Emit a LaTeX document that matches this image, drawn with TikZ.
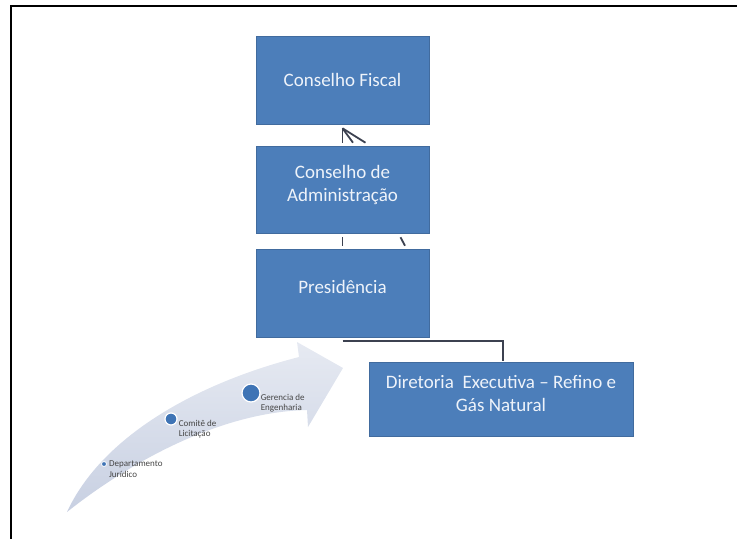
\documentclass[tikz,border=0pt]{standalone}
\usepackage{fontspec}
\setmainfont{Carlito}
\usetikzlibrary{positioning,calc}
\definecolor{boxblue}{HTML}{4C7EBA}
\definecolor{boxtext}{HTML}{EEF3FA}
\definecolor{linegray}{HTML}{3C4150}
\definecolor{arrowc}{HTML}{C8D0E2}
\definecolor{dotblue}{HTML}{3F74B5}
\definecolor{labgray}{HTML}{454545}
\tikzset{
  orgbox/.style={fill=boxblue, draw=boxblue!85!black, line width=0.6pt, text=boxtext,
    align=center, inner sep=0pt, font=\fontsize{19}{23}\selectfont},
  link/.style={draw=linegray, line width=1.8pt},
  dotnode/.style={circle, fill=dotblue, draw=white, line width=1.2pt, inner sep=0pt},
  smalllab/.style={text=labgray, align=left, inner sep=0pt, anchor=west,
    font=\fontsize{9}{10.5}\selectfont}
}
\begin{document}
\begin{tikzpicture}[x=1pt,y=-1pt]
\useasboundingbox (0,0) rectangle (737,539);
% frame (top and left only)
\draw[line width=2pt, black] (737,6) -- (11,6) -- (11,539);

% curved block arrow
\shade[left color=arrowc!45!white, right color=arrowc, shading angle=0]
  (67,512) .. controls (100,440) and (190,385) .. (299,357)
  -- (297,342) -- (343,368) -- (308,427) -- (307,410)
  .. controls (220,412) and (130,462) .. (67,512) -- cycle;

% boxes
\node[orgbox, minimum width=173pt, minimum height=88pt] (cf) at (342.5,80) {Conselho Fiscal};
\node[orgbox, minimum width=173pt, minimum height=87pt] (cda) at (342.5,189.5) {};
\node[text=boxtext, align=center, font=\fontsize{19}{23}\selectfont] (cdat) at ($(cda)+(0,-5)$) {Conselho de\\Administração};
\node[orgbox, minimum width=173pt, minimum height=88pt] (pres) at (342.5,293) {};
\node[text=boxtext, font=\fontsize{19}{23}\selectfont] (prest) at ($(pres)+(0,-6)$) {Presidência};
\node[orgbox, minimum width=264pt, minimum height=74pt] (dir) at (501,399) {};
\node[text=boxtext, align=center, font=\fontsize{19}{23}\selectfont] (dirt) at ($(dir)+(0,-6)$) {Diretoria\ \ Executiva – Refino e\\Gás Natural};

% connectors
\coordinate (apex) at ($(cf.south)+(0,4)$);
\draw[link] (apex) -- ($(cda.north)+(0,-3)$);
\draw[link] (apex) -- ($(cda.north)+(10.5,-3)$);
\draw[link] (apex) -- ($(cda.north)+(23,-3)$);
\draw[link] ($(cda.south)+(0,4)$) -- ($(pres.north)+(0,-3)$);
\draw[link] ($(cda.south)+(58,4)$) -- ($(pres.north)+(62.5,-3)$);
\coordinate (pbelow) at ($(pres.south)+(0,4)$);
\draw[link] (pbelow) -| ($(dir.north)+(2,-1)$);

% dots and labels
\node[dotnode, minimum size=5pt, line width=0.8pt] (d1) at (104,464) {};
\node[smalllab] (l1) at ($(d1.east)+(2,5)$) {Departamento\\Jurídico};
\node[dotnode, minimum size=12pt] (d2) at (171,419) {};
\node[smalllab] (l2) at ($(d2.east)+(1,10)$) {Comitê de\\Licitação};
\node[dotnode, minimum size=18pt] (d3) at (251,393) {};
\node[smalllab] (l3) at ($(d3.east)+(0,10)$) {Gerencia de\\Engenharia};
\end{tikzpicture}
\end{document}
